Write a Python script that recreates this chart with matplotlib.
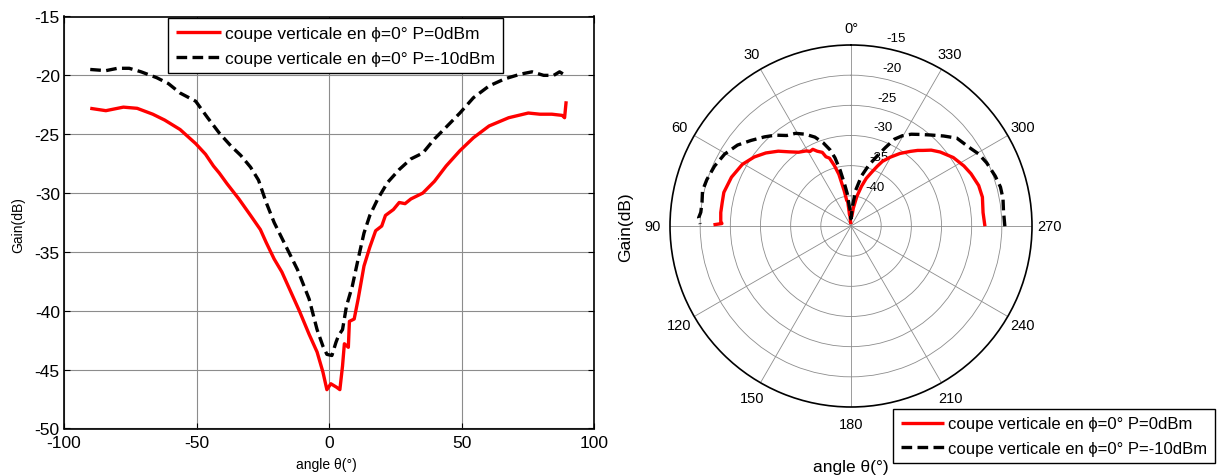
import numpy as np
import matplotlib
matplotlib.use("Agg")
import matplotlib.pyplot as plt
from matplotlib.transforms import offset_copy

plt.rcParams['font.family'] = ['Liberation Sans', 'DejaVu Sans']
plt.rcParams['axes.unicode_minus'] = False

theta_0dbm = [-90.1, -84.2, -77.6, -72.4, -66.5, -62.0, -56.2, -50.3, -46.6, -43.6,
              -41.4, -38.5, -34.0, -29.6, -25.9, -23.7, -20.7, -17.8, -14.8, -11.2,
              -7.5, -4.5, -2.3, -0.8, 0.7, 2.9, 4.1, 5.1, 5.8, 7.3,
              7.7, 9.5, 11.0, 13.2, 15.4, 17.6, 19.9, 21.3, 24.3, 26.5,
              28.7, 30.9, 35.4, 39.8, 44.2, 49.4, 54.5, 60.4, 67.8, 75.2,
              79.6, 84.1, 88.0, 88.9, 89.5]
gain_0dbm = [-22.8, -23.0, -22.7, -22.8, -23.3, -23.8, -24.6, -25.8, -26.7, -27.7,
             -28.3, -29.2, -30.5, -31.9, -33.1, -34.2, -35.6, -36.7, -38.2, -40.0,
             -42.0, -43.5, -45.2, -46.7, -46.2, -46.5, -46.7, -44.7, -42.8, -43.1,
             -40.9, -40.7, -39.0, -36.2, -34.6, -33.2, -32.8, -31.9, -31.4, -30.8,
             -30.9, -30.5, -30.0, -29.0, -27.7, -26.4, -25.3, -24.3, -23.6, -23.2,
             -23.3, -23.3, -23.4, -23.6, -22.2]

theta_m10dbm = [-90.1, -84.2, -79.8, -75.4, -70.9, -65.0, -60.6, -56.2, -50.3, -45.8,
                -41.4, -37.0, -33.3, -29.6, -26.6, -23.7, -20.7, -16.3, -11.9, -7.5,
                -4.5, -2.3, -0.8, 1.1, 2.6, 3.6, 5.1, 6.6, 8.8, 11.0,
                13.2, 15.4, 18.4, 22.1, 26.5, 30.9, 35.4, 39.8, 44.2, 49.4,
                54.5, 60.4, 66.3, 72.2, 76.6, 81.0, 84.8, 87.0, 89.2]
gain_m10dbm = [-19.5, -19.6, -19.4, -19.4, -19.7, -20.2, -20.7, -21.5, -22.2, -23.6,
               -24.9, -26.0, -26.8, -27.8, -28.9, -30.8, -32.5, -34.5, -36.5, -39.0,
               -41.6, -43.0, -43.7, -43.8, -42.7, -42.1, -41.6, -39.6, -37.9, -35.6,
               -33.4, -31.9, -30.5, -29.1, -28.0, -27.1, -26.6, -25.4, -24.4, -23.2,
               -21.9, -20.9, -20.3, -19.9, -19.7, -20.0, -20.0, -19.7, -20.0]

label_0dbm = "coupe verticale en \u03d5=0° P=0dBm"
label_m10dbm = "coupe verticale en \u03d5=0° P=-10dBm"

angle_ticks = list(range(0, 360, 30))
angle_labels = ["0°"] + [str(a) for a in angle_ticks[1:]]
r_ticks = [-40, -35, -30, -25, -20]
r_labels = [-15, -20, -25, -30, -35, -40]

red_style = dict(color="red", lw=2.4, solid_capstyle="butt")
black_style = dict(color="black", lw=2.4, linestyle=(0, (3.2, 1.6)))
leg_style = dict(fancybox=False, edgecolor="black", framealpha=1, handlelength=2.6,
                 handletextpad=0.25, borderpad=0.45, labelspacing=0.55, borderaxespad=0)

fig = plt.figure(figsize=(12.26, 4.77), dpi=100)

# ---- graphe cartesien ----
ax = fig.add_axes([64 / 1226, 1 - 429.5 / 477, 530 / 1226, 412 / 477])
ax.plot(theta_0dbm, gain_0dbm, label=label_0dbm, **red_style)
ax.plot(theta_m10dbm, gain_m10dbm, label=label_m10dbm, **black_style)
ax.set_xlim(-100, 100)
ax.set_ylim(-50, -15)
ax.set_xticks([-100, -50, 0, 50, 100])
ax.set_yticks([-50, -45, -40, -35, -30, -25, -20, -15])
ax.grid(True, color="0.55", lw=0.8)
ax.tick_params(direction="in", top=True, right=True, labelsize=12.5, length=4)
ax.tick_params(axis="x", pad=5)
ax.tick_params(axis="y", pad=3)
for s in ax.spines.values():
    s.set_linewidth(1.2)
fig.text(18 / 1226, 1 - 225 / 477, "Gain(dB)", rotation=90, ha="center", va="center", fontsize=10)
fig.text(326 / 1226, 1 - 465 / 477, "angle \u03b8(°)", ha="center", va="center", fontsize=10)
ax.legend(loc="upper left", bbox_to_anchor=(168 / 1226, 1 - 19 / 477), bbox_transform=fig.transFigure,
          fontsize=12.5, **leg_style)

# ---- diagramme polaire ----
pax = fig.add_axes([670 / 1226, 1 - 408 / 477, 362 / 1226, 362 / 477], projection="polar")
pax.set_theta_zero_location("N")
pax.set_theta_direction(1)
pax.plot(np.deg2rad(theta_0dbm), gain_0dbm, label=label_0dbm, **red_style)
pax.plot(np.deg2rad(theta_m10dbm), gain_m10dbm, label=label_m10dbm, **black_style)
pax.set_rlim(-45, -15)
pax.set_rticks(r_ticks)
pax.set_yticklabels([])
pax.set_thetagrids(angle_ticks, angle_labels, fontsize=10.5)
pax.tick_params(axis="x", pad=2)
pax.grid(True, color="0.55", lw=0.6)
pax.spines["polar"].set_linewidth(1.2)
off = offset_copy(pax.transData, fig=fig, x=10, y=9, units="dots")
for r in r_labels:
    pax.text(np.deg2rad(-8), r, str(r), transform=off, ha="left", va="center", fontsize=9.5, zorder=1.5)
fig.text(626 / 1226, 1 - 227 / 477, "Gain(dB)", rotation=90, ha="center", va="center", fontsize=12.5)
fig.text(851 / 1226, 1 - 475 / 477, "angle \u03b8(°)", ha="center", va="bottom", fontsize=12.5)
pax.legend(loc="upper left", bbox_to_anchor=(893 / 1226, 1 - 410 / 477), bbox_transform=fig.transFigure,
           fontsize=12, **leg_style)

fig.savefig("out.png", dpi=100)
